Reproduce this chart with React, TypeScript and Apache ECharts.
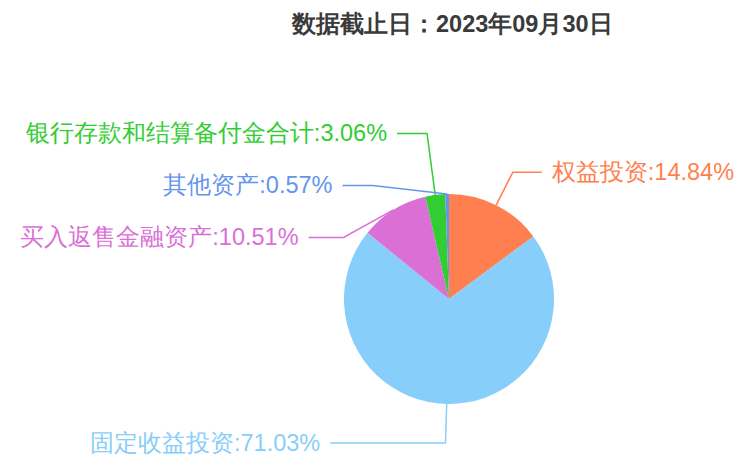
import React, { useEffect, useRef } from "react";
import * as echarts from "echarts";

const titleText = "数据截止日：2023年09月30日";
const categories = ["权益投资", "固定收益投资", "买入返售金融资产", "银行存款和结算备付金合计", "其他资产"];
const values = [14.84, 71.03, 10.51, 3.06, 0.57];
const colors = ["#ff7f50", "#87cefa", "#da70d6", "#32cd32", "#6495ed"];
const lineLengths = [37, 56, 19, 62, 12];
const lineLengths2 = [29, 30, 35, 30, 30];
const labelAligns = ["none", "edge", "none", "none", "none"];

export default function App() {
  const ref = useRef<HTMLDivElement>(null);
  useEffect(() => {
    document.body.style.margin = "0";
    const chart = echarts.init(ref.current!, null, { renderer: "svg" });
    chart.setOption({
      animation: false,
      backgroundColor: "#ffffff",
      title: {
        text: titleText,
        left: 287,
        top: 7,
        textStyle: { fontSize: 23.5, fontWeight: "bold", color: "#3a3a3a", fontFamily: "sans-serif" },
      },
      series: [
        {
          type: "pie",
          center: [449, 299],
          radius: 105,
          startAngle: 90,
          clockwise: true,
          avoidLabelOverlap: true,
          label: {
            show: true,
            position: "outside",
            fontSize: 23.5,
            lineHeight: 50,
            overflow: "none",
            distanceToLabelLine: 10,
            edgeDistance: 90,
            fontFamily: "sans-serif",
            formatter: (p: any) => `${p.name}:${p.value.toFixed(2)}%`,
          },
          labelLine: { show: true, lineStyle: { width: 1.5 } },
          data: categories.map((name, i) => ({
            name,
            value: values[i],
            itemStyle: { color: colors[i] },
            label: { color: colors[i], alignTo: labelAligns[i] },
            labelLine: { length: lineLengths[i], length2: lineLengths2[i], lineStyle: { color: colors[i] } },
          })),
        },
      ],
    });
    return () => chart.dispose();
  }, []);
  return <div ref={ref} style={{ width: 741, height: 469 }} />;
}
